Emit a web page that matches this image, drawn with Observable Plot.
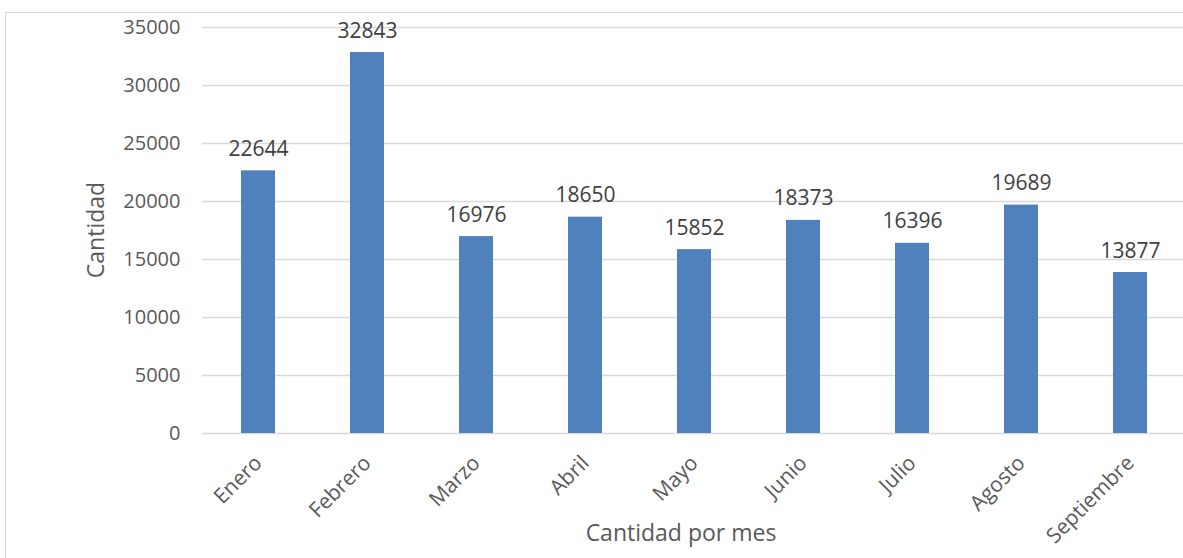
<!DOCTYPE html>
<html><head><meta charset="utf-8">
<script src="https://cdn.jsdelivr.net/npm/d3@7"></script>
<script src="https://cdn.jsdelivr.net/npm/@observablehq/plot@0.6"></script>
<style>
body{margin:0;background:#fff;overflow:hidden;}
#frame{position:absolute;left:5px;top:12px;width:1300px;height:700px;border:1.5px solid #d9d9d9;box-sizing:border-box;}
#chart{position:absolute;left:0;top:0;}
</style></head><body>
<div id="frame"></div>
<div id="chart"></div>
<script>
const months = ["Enero","Febrero","Marzo","Abril","Mayo","Junio","Julio","Agosto","Septiembre"];
const values = [22644,32843,16976,18650,15852,18373,16396,19689,13877];
const yTicks = [0,5000,10000,15000,20000,25000,30000,35000];
const data = months.map((m,i)=>({mes:m, cantidad:values[i]}));
const font = "'Open Sans', sans-serif";
const chart = Plot.plot({
  width:1183, height:558,
  marginLeft:202, marginRight:0, marginTop:27, marginBottom:125,
  style:{fontFamily:font, fontSize:"20px", background:"transparent", color:"#595959", overflow:"visible"},
  x:{domain:months, range:[202,1186], paddingInner:0.69, paddingOuter:0.345, label:null},
  y:{domain:[0,35000], label:null},
  marks:[
    Plot.ruleY(yTicks,{stroke:"#d9d9d9", strokeWidth:1.5}),
    Plot.barY(data,{x:"mes", y:"cantidad", fill:"#4f81bd"}),
    Plot.text(data,{x:"mes", y:"cantidad", text:d=>String(d.cantidad), lineAnchor:"bottom", dy:-15, fill:"#404040", fontSize:21}),
    Plot.axisY({ticks:yTicks, tickSize:0, tickPadding:22, tickFormat:d=>String(d), fontSize:20, fill:"#595959"}),
    Plot.axisX({tickSize:0, tickRotate:-45, tickPadding:26, fontSize:21, fill:"#595959", label:null})
  ]
});
document.getElementById("chart").appendChild(chart);
const svg = d3.select(chart);
svg.append("text").attr("x",681).attr("y",541).attr("text-anchor","middle")
  .style("font-family",font).style("font-size","23px").attr("fill","#595959").text("Cantidad por mes");
svg.append("text").attr("transform","translate(104,230) rotate(-90)").attr("text-anchor","middle")
  .style("font-family",font).style("font-size","23px").attr("fill","#595959").text("Cantidad");
</script>
</body></html>
